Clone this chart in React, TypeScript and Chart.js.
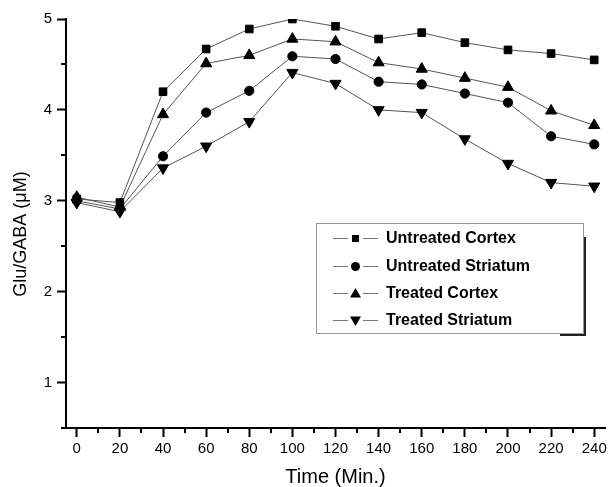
import React, { useEffect, useRef } from "react";
import { Chart, registerables } from "chart.js";

Chart.register(...registerables);

const times = [0, 20, 40, 60, 80, 100, 120, 140, 160, 180, 200, 220, 240];
const untreatedCortex = [3.02, 2.98, 4.2, 4.67, 4.89, 5.0, 4.92, 4.78, 4.85, 4.74, 4.66, 4.62, 4.55];
const untreatedStriatum = [3.0, 2.91, 3.49, 3.97, 4.21, 4.59, 4.56, 4.31, 4.28, 4.18, 4.08, 3.71, 3.62];
const treatedCortex = [3.04, 2.93, 3.95, 4.51, 4.6, 4.78, 4.75, 4.52, 4.45, 4.35, 4.25, 3.99, 3.83];
const treatedStriatum = [2.98, 2.88, 3.36, 3.6, 3.87, 4.41, 4.29, 4.0, 3.97, 3.68, 3.41, 3.2, 3.16];
const seriesLabels = ["Untreated Cortex", "Untreated Striatum", "Treated Cortex", "Treated Striatum"];
const xTickValues = [0, 20, 40, 60, 80, 100, 120, 140, 160, 180, 200, 220, 240];
const xMinorValues = [10, 30, 50, 70, 90, 110, 130, 150, 170, 190, 210, 230];
const yTickValues = [1, 2, 3, 4, 5];
const yMinorValues = [0.5, 1.5, 2.5, 3.5, 4.5];
const xTitle = "Time (Min.)";
const yTitle = "Glu/GABA (\u03bcM)";

const FONT = "'Liberation Sans', Arial, sans-serif";

type Marker = "rect" | "circle" | "triangle" | "triangleDown";
const markers: Marker[] = ["rect", "circle", "triangle", "triangleDown"];

function drawMarker(ctx: CanvasRenderingContext2D, kind: Marker, x: number, y: number) {
  ctx.beginPath();
  if (kind === "rect") {
    ctx.rect(x - 3.5, y - 3.5, 7, 7);
  } else if (kind === "circle") {
    ctx.arc(x, y, 4.5, 0, Math.PI * 2);
  } else if (kind === "triangle") {
    ctx.moveTo(x, y - 5.5);
    ctx.lineTo(x + 5.5, y + 4);
    ctx.lineTo(x - 5.5, y + 4);
    ctx.closePath();
  } else {
    ctx.moveTo(x, y + 5.5);
    ctx.lineTo(x + 5.5, y - 4);
    ctx.lineTo(x - 5.5, y - 4);
    ctx.closePath();
  }
  ctx.fillStyle = "#000";
  ctx.fill();
}

const decorPlugin = {
  id: "decor",
  afterDraw(chart: any) {
    const ctx: CanvasRenderingContext2D = chart.ctx;
    const xs = chart.scales.x;
    const ys = chart.scales.y;
    const area = chart.chartArea;
    ctx.save();
    // minor ticks
    ctx.strokeStyle = "#000";
    ctx.lineWidth = 2;
    xMinorValues.forEach((v) => {
      const px = Math.round(xs.getPixelForValue(v));
      ctx.beginPath();
      ctx.moveTo(px, area.bottom);
      ctx.lineTo(px, area.bottom + 5);
      ctx.stroke();
    });
    yMinorValues.forEach((v) => {
      const py = Math.round(ys.getPixelForValue(v));
      ctx.beginPath();
      ctx.moveTo(area.left, py);
      ctx.lineTo(area.left - 5, py);
      ctx.stroke();
    });
    // y title
    ctx.save();
    ctx.translate(21, 234);
    ctx.rotate(-Math.PI / 2);
    ctx.fillStyle = "#000";
    ctx.font = `18px ${FONT}`;
    ctx.textAlign = "center";
    ctx.textBaseline = "middle";
    ctx.fillText(yTitle, 0, 0);
    ctx.restore();
    // legend box
    const bx = 316.5, by = 223.5, bw = 267, bh = 110;
    ctx.fillStyle = "#fff";
    ctx.fillRect(bx, by, bw, bh);
    ctx.strokeStyle = "#999";
    ctx.lineWidth = 1;
    ctx.strokeRect(bx, by, bw, bh);
    ctx.strokeStyle = "#222";
    ctx.lineWidth = 2;
    ctx.beginPath();
    ctx.moveTo(585, 237);
    ctx.lineTo(585, 335);
    ctx.moveTo(560, 335);
    ctx.lineTo(586, 335);
    ctx.stroke();
    const rows = [238, 266, 293, 320];
    seriesLabels.forEach((label, i) => {
      const y = rows[i];
      ctx.strokeStyle = "#777";
      ctx.lineWidth = 1;
      ctx.beginPath();
      ctx.moveTo(333, y + 0.5);
      ctx.lineTo(348, y + 0.5);
      ctx.moveTo(363, y + 0.5);
      ctx.lineTo(378, y + 0.5);
      ctx.stroke();
      drawMarker(ctx, markers[i], 355.5, y + 0.5);
      ctx.fillStyle = "#000";
      ctx.font = `bold 16px ${FONT}`;
      ctx.textAlign = "left";
      ctx.textBaseline = "middle";
      ctx.fillText(label, 386, y + 1);
    });
    ctx.restore();
  },
};

export default function App() {
  const ref = useRef<HTMLCanvasElement | null>(null);
  useEffect(() => {
    if (!ref.current) return;
    const mk = (label: string, data: number[], style: string, radius: number, rotation = 0) => ({
      label,
      data: data.map((v, i) => ({ x: times[i], y: v })),
      borderColor: "#555",
      borderWidth: 1,
      backgroundColor: "#000",
      pointBackgroundColor: "#000",
      pointBorderColor: "#000",
      pointBorderWidth: 1,
      pointStyle: style,
      pointRadius: radius,
      pointRotation: rotation,
      tension: 0,
      fill: false,
    });
    const chart = new Chart(ref.current, {
      type: "line",
      data: {
        datasets: [
          mk(seriesLabels[0], untreatedCortex, "rect", 5.4),
          mk(seriesLabels[1], untreatedStriatum, "circle", 4.6),
          mk(seriesLabels[2], treatedCortex, "triangle", 6.4),
          mk(seriesLabels[3], treatedStriatum, "triangle", 6.4, 180),
        ] as any,
      },
      options: {
        animation: false,
        responsive: false,
        devicePixelRatio: 1,
        layout: { padding: { left: 0, top: 19, right: 11, bottom: 0 } },
        plugins: { legend: { display: false }, tooltip: { enabled: false } },
        scales: {
          x: {
            type: "linear",
            min: -5,
            max: 245,
            afterBuildTicks: (s: any) => {
              s.ticks = xTickValues.map((v) => ({ value: v }));
            },
            afterFit: (s: any) => {
              s.height = 59;
            },
            border: { color: "#000", width: 2 },
            grid: { drawOnChartArea: false, drawTicks: true, tickLength: 9, tickColor: "#000", tickWidth: 2 },
            ticks: {
              color: "#000",
              font: { family: FONT, size: 15 },
              padding: 3,
              maxRotation: 0,
              autoSkip: false,
              callback: (v: any) => String(v),
            },
            title: {
              display: true,
              text: xTitle,
              color: "#000",
              font: { family: FONT, size: 20, lineHeight: 1 },
              padding: { top: 0, bottom: 0 },
            },
          },
          y: {
            type: "linear",
            min: 0.5,
            max: 5,
            afterBuildTicks: (s: any) => {
              s.ticks = yTickValues.map((v) => ({ value: v }));
            },
            afterFit: (s: any) => {
              s.width = 66;
            },
            border: { color: "#000", width: 2 },
            grid: { drawOnChartArea: false, drawTicks: true, tickLength: 9, tickColor: "#000", tickWidth: 2 },
            ticks: {
              color: "#000",
              font: { family: FONT, size: 15 },
              padding: 5,
              callback: (v: any) => String(v),
            },
          },
        },
      } as any,
      plugins: [decorPlugin],
    });
    return () => chart.destroy();
  }, []);
  return (
    <div style={{ position: "absolute", left: 0, top: 0, width: 616, height: 487, background: "#fff" }}>
      <canvas ref={ref} width={616} height={487} style={{ display: "block" }} />
    </div>
  );
}
